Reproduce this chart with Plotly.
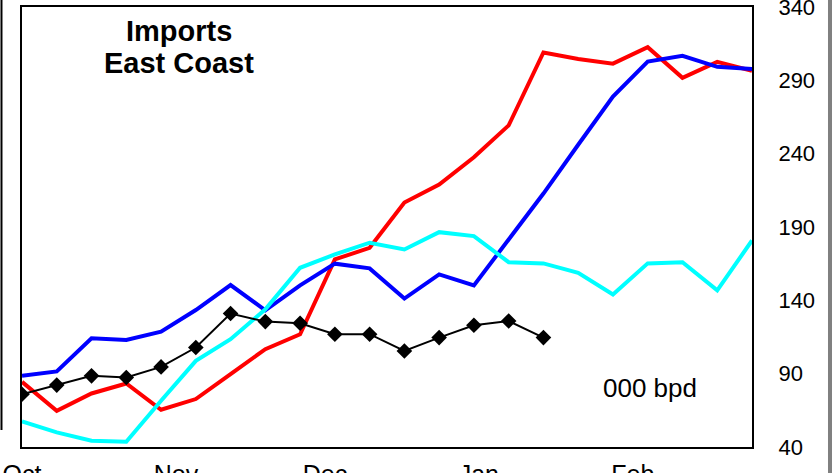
import plotly.graph_objects as go

# Weekly observations starting 1 Oct (x = week index)
red = [84.4, 64.7, 76.5, 83.3, 65.4, 72.7, 89.7, 106.7, 116.9, 167.9, 175.8, 206.7,
       219, 237.5, 259.3, 309, 304.6, 301.4, 312.6, 291.7, 302.6, 296.5]
blue = [88.5, 91.5, 114.1, 113, 118.6, 133.4, 150.4, 133.2, 150.2, 165, 161.8, 141.2,
        157.7, 150.2, 181.5, 212.8, 246.1, 279, 302.8, 306.7, 299.2, 297.8]
cyan = [57.5, 50, 44.3, 43.6, 71.5, 98.7, 113.5, 133.9, 162.2, 171.3, 179.3, 174.7,
        186.5, 183.8, 166, 165.2, 158.8, 144, 165.2, 166, 146.8, 180.8]
black = [76, 82.2, 88.5, 87.4, 94.6, 107.8, 131, 125.5, 124.4, 116.9, 116.9, 105.5,
         114.6, 123, 125.9, 114.6]

month_labels = ["Oct", "Nov", "Dec", "Jan", "Feb"]
month_day_offsets = [0, 31, 61, 92, 123]
month_ticks = [d / 7 for d in month_day_offsets]
y_ticks = [40, 90, 140, 190, 240, 290, 340]

weeks_long = list(range(len(red)))
weeks_short = list(range(len(black)))

fig = go.Figure()
fig.add_trace(go.Scatter(x=weeks_long, y=red, mode="lines",
                         line=dict(color="#FF0000", width=4), showlegend=False))
fig.add_trace(go.Scatter(x=weeks_long, y=blue, mode="lines",
                         line=dict(color="#0000FF", width=4), showlegend=False))
fig.add_trace(go.Scatter(x=weeks_long, y=cyan, mode="lines",
                         line=dict(color="#00FFFF", width=4), showlegend=False))
fig.add_trace(go.Scatter(x=weeks_short, y=black, mode="lines+markers",
                         line=dict(color="#000000", width=2),
                         marker=dict(symbol="diamond", size=12, color="#000000"),
                         showlegend=False))

fig.add_annotation(text="<b>Imports</b>", x=0.215, y=0.945, xref="paper", yref="paper",
                   showarrow=False, xanchor="center", yanchor="middle",
                   font=dict(family="Liberation Sans, Arial", size=29, color="black"))
fig.add_annotation(text="<b>East Coast</b>", x=0.215, y=0.873, xref="paper", yref="paper",
                   showarrow=False, xanchor="center", yanchor="middle",
                   font=dict(family="Liberation Sans, Arial", size=29, color="black"))
fig.add_annotation(text="000 bpd", x=0.860, y=0.1334, xref="paper", yref="paper",
                   showarrow=False, xanchor="center", yanchor="middle",
                   font=dict(family="Liberation Sans, Arial", size=26, color="black"))

# cropping artefacts: neighbouring panel border and grey separator
fig.add_shape(type="line", xref="paper", yref="paper", x0=-0.0281, x1=-0.0281,
              y0=0.0386, y1=1.02, line=dict(color="black", width=2))
fig.add_shape(type="rect", xref="paper", yref="paper", x0=1.1041, x1=1.112,
              y0=-0.1, y1=1.02, fillcolor="#808080", line=dict(width=0))

fig.update_layout(
    width=832, height=473,
    margin=dict(l=22, r=80, t=7, b=26, autoexpand=False),
    paper_bgcolor="white", plot_bgcolor="white",
    font=dict(family="Liberation Sans, Arial", size=22, color="black"),
)
fig.update_xaxes(range=[0, 21], tickvals=month_ticks, ticktext=month_labels,
                 showgrid=False, zeroline=False, showline=True, mirror=True,
                 linecolor="black", linewidth=2, ticks="", ticklabelstandoff=4,
                 automargin=False, ticklabeloverflow="allow", tickfont=dict(size=25))
fig.update_yaxes(range=[40, 340.01], tickvals=y_ticks, side="right",
                 showgrid=False, zeroline=False, showline=True, mirror=True,
                 linecolor="black", linewidth=2, ticks="", ticklabelstandoff=20,
                 automargin=False, ticklabeloverflow="allow", tickfont=dict(size=22))

fig.write_html("out.html", config={"displayModeBar": False},
               post_script="document.body.style.margin='0';document.body.style.overflow='hidden';")
